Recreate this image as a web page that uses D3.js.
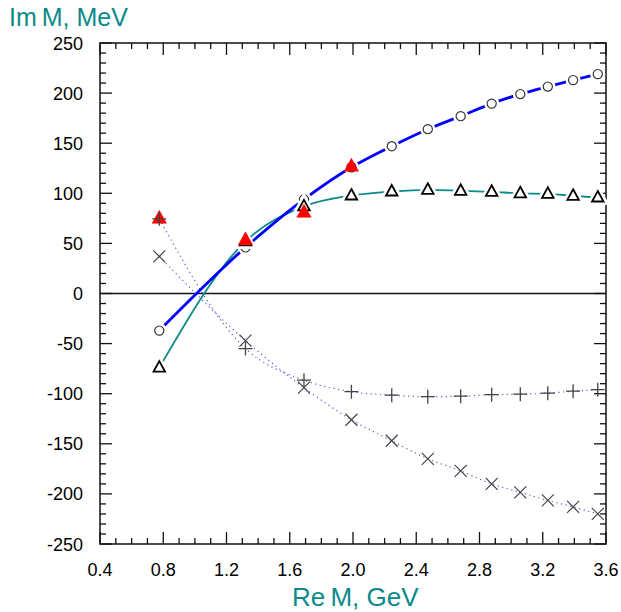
<!DOCTYPE html>
<html>
<head>
<meta charset="utf-8">
<script src="https://cdn.jsdelivr.net/npm/d3@7"></script>
<style>
  body { margin: 0; background: #fff; }
  text { font-family: "Liberation Sans", Arial, sans-serif; }
</style>
</head>
<body>
<div id="chart-area"></div>
<script>
// chart size
const WIDTH = 621;
const HEIGHT = 612;

// data
const reM      = [0.775, 1.32, 1.69, 1.99, 2.245, 2.473, 2.681, 2.877, 3.058, 3.232, 3.392, 3.548];
const imCircle = [-37, 46, 94, 126, 147, 164, 177, 189.5, 199, 206.5, 213, 219];
const imTri    = [-74, 52, 87, 97.8, 101.8, 103.5, 102.5, 101.5, 100, 99.5, 97.5, 95.8];
const imPlus   = [74.5, -55, -86.5, -98, -101.5, -103, -102.5, -101, -100.5, -99.5, -97.5, -96];
const imCross  = [37, -47, -94, -126, -147, -165, -177, -190, -198.5, -206.5, -213, -220];
const redReM   = [0.775, 1.32, 1.69, 1.99];
const redImM   = [75, 53.5, 81, 127];

const xTicks = [0.4, 0.8, 1.2, 1.6, 2.0, 2.4, 2.8, 3.2, 3.6];
const yTicks = [-250, -200, -150, -100, -50, 0, 50, 100, 150, 200, 250];

const TEAL = "#0b8a8a";

let svg = d3.select("#chart-area").append("svg")
    .attr("width", WIDTH)
    .attr("height", HEIGHT);

let x = d3.scaleLinear().domain([0.4, 3.6]).range([100, 606]);
let y = d3.scaleLinear().domain([-250, 250]).range([544, 43]);

// ticks on all four sides, pointing inside
const MAJOR = 12, MINOR = 6;
let xMinor = d3.range(4, 37).map(d => d / 10);
let yMinor = d3.range(-250, 251, 10);
let tickG = svg.append("g").attr("stroke", "#111").attr("stroke-width", 1.3);

xMinor.forEach(v => {
    let isMajor = Math.abs(v * 10 % 4) < 1e-6;
    let len = isMajor ? MAJOR : MINOR;
    tickG.append("line").attr("x1", x(v)).attr("x2", x(v)).attr("y1", y(-250)).attr("y2", y(-250) - len);
    tickG.append("line").attr("x1", x(v)).attr("x2", x(v)).attr("y1", y(250)).attr("y2", y(250) + len);
});
yMinor.forEach(v => {
    let len = v % 50 === 0 ? MAJOR : MINOR;
    tickG.append("line").attr("y1", y(v)).attr("y2", y(v)).attr("x1", x(0.4)).attr("x2", x(0.4) + len);
    tickG.append("line").attr("y1", y(v)).attr("y2", y(v)).attr("x1", x(3.6)).attr("x2", x(3.6) - len);
});

// frame
svg.append("rect")
    .attr("x", x(0.4)).attr("y", y(250))
    .attr("width", x(3.6) - x(0.4)).attr("height", y(-250) - y(250))
    .attr("fill", "none").attr("stroke", "#111").attr("stroke-width", 1.5);

// tick labels
svg.selectAll(".xlab").data(xTicks).enter().append("text")
    .attr("class", "xlab")
    .attr("x", d => x(d)).attr("y", 576)
    .attr("text-anchor", "middle").attr("font-size", 18)
    .text(d => d.toFixed(1));
svg.selectAll(".ylab").data(yTicks).enter().append("text")
    .attr("class", "ylab")
    .attr("x", 83).attr("y", d => y(d) + 6.5)
    .attr("text-anchor", "end").attr("font-size", 18)
    .text(d => d);

// axis titles
svg.append("text").attr("x", 9).attr("y", 26)
    .attr("fill", TEAL).attr("font-size", 25)
    .text("Im\u2009M, MeV");
svg.append("text").attr("x", 292).attr("y", 606)
    .attr("fill", TEAL).attr("font-size", 26)
    .text("Re\u2009M, GeV");

// zero line
svg.append("line")
    .attr("x1", x(0.4)).attr("x2", x(3.6)).attr("y1", y(0)).attr("y2", y(0))
    .attr("stroke", "#111").attr("stroke-width", 1.5);

// lines
let line = d3.line().x(d => x(d[0])).y(d => y(d[1])).curve(d3.curveMonotoneX);
const zip = arr => reM.map((r, i) => [r, arr[i]]);

svg.append("path").attr("d", line(zip(imPlus)))
    .attr("fill", "none").attr("stroke", "#5a5ad0").attr("stroke-width", 1.2)
    .attr("stroke-dasharray", "1.2,3.5");
svg.append("path").attr("d", line(zip(imCross)))
    .attr("fill", "none").attr("stroke", "#5a5ad0").attr("stroke-width", 1.2)
    .attr("stroke-dasharray", "1.2,3.5");
svg.append("path").attr("d", line(zip(imTri)))
    .attr("fill", "none").attr("stroke", TEAL).attr("stroke-width", 1.8);
svg.append("path").attr("d", line(zip(imCircle)))
    .attr("fill", "none").attr("stroke", "#0000ff").attr("stroke-width", 2.8);

// marker shapes
const triPath = s => `M0,${-s * 0.62}L${s * 0.55},${s * 0.38}L${-s * 0.55},${s * 0.38}Z`;
const plusPath = s => `M${-s},0H${s}M0,${-s}V${s}`;
const crossPath = s => `M${-s},${-s}L${s},${s}M${-s},${s}L${s},${-s}`;

// white halo + marker
function markers(data, pathFn, opts) {
    let g = svg.append("g");
    if (opts.halo > 0) {
        g.selectAll(".halo").data(data).enter().append("path")
            .attr("transform", d => `translate(${x(d[0])},${y(d[1])})`)
            .attr("d", pathFn)
            .attr("fill", "#fff")
            .attr("stroke", "#fff").attr("stroke-width", opts.halo);
    }
    g.selectAll(".mk").data(data).enter().append("path")
        .attr("transform", d => `translate(${x(d[0])},${y(d[1])})`)
        .attr("d", pathFn)
        .attr("fill", opts.fill)
        .attr("stroke", opts.stroke).attr("stroke-width", opts.sw);
}

markers(zip(imCircle), () => d3.symbol(d3.symbolCircle, 66)(), { fill: "#fff", stroke: "#333", sw: 1.2, halo: 6 });
markers(zip(imTri), () => triPath(10.5), { fill: "#fff", stroke: "#000", sw: 1.8, halo: 7 });
markers(redReM.map((r, i) => [r, redImM[i]]), () => triPath(13), { fill: "#ff0000", stroke: "#ff0000", sw: 0.5, halo: 0 });
markers(zip(imPlus), () => plusPath(7), { fill: "none", stroke: "#444", sw: 1.3, halo: 0 });
markers(zip(imCross), () => crossPath(6), { fill: "none", stroke: "#444", sw: 1.2, halo: 0 });
</script>
</body>
</html>
